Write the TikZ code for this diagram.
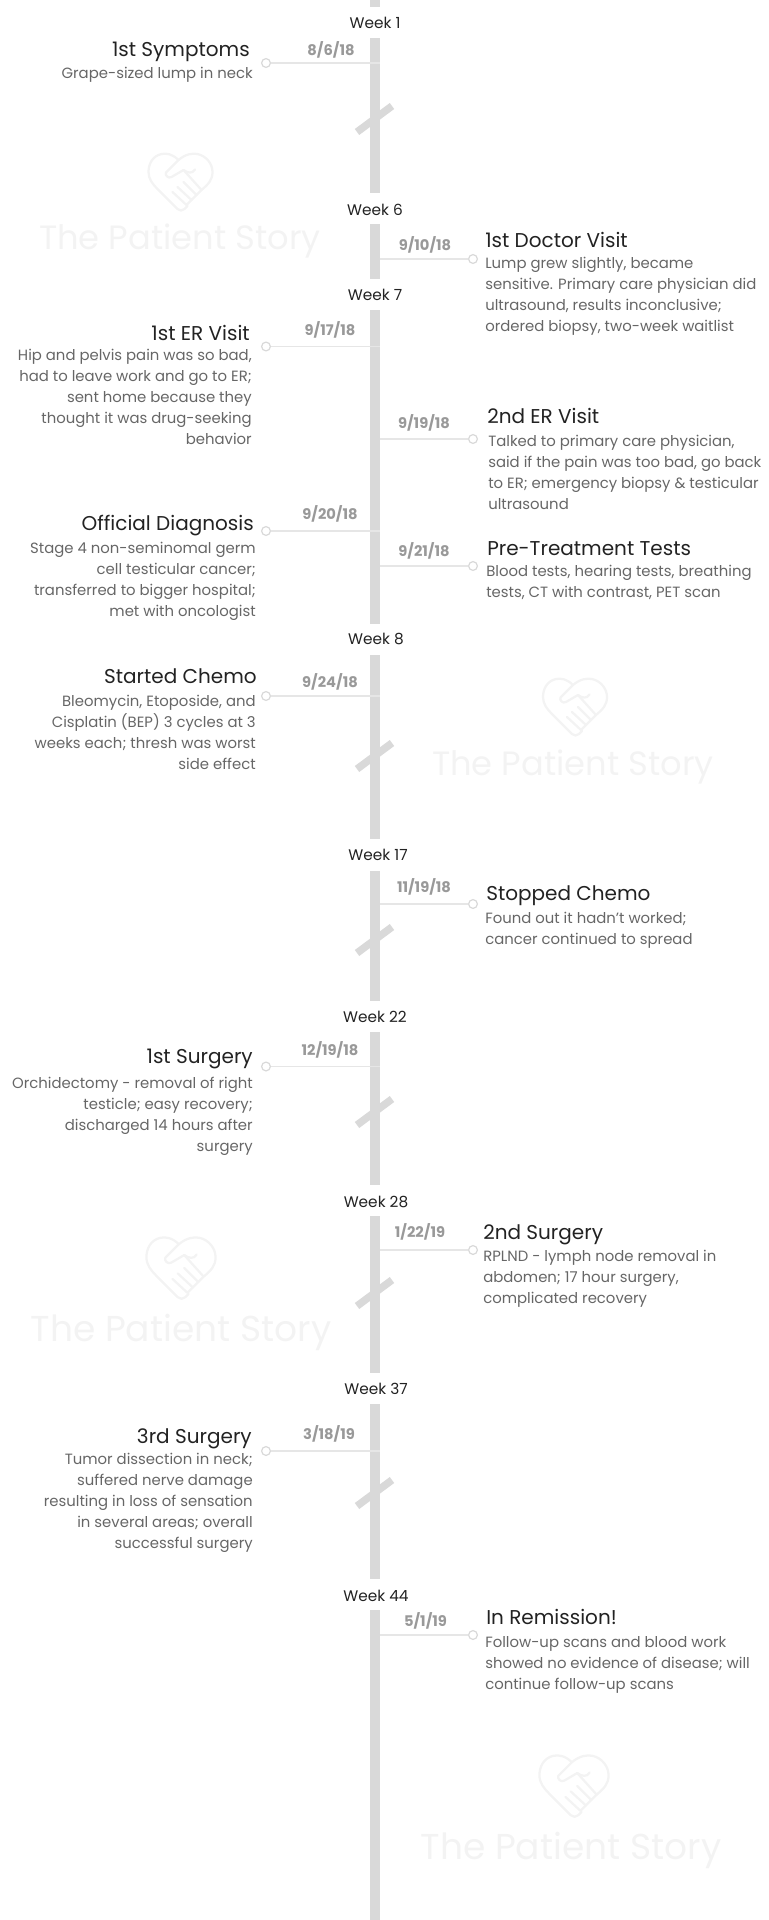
\documentclass[tikz,border=0pt]{standalone}
\usepackage{fontspec}
\setmainfont{Poppins}
\usepackage{xcolor}
\usetikzlibrary{calc,positioning}
\definecolor{trunkgray}{HTML}{D9D9D9}
\definecolor{linkgray}{HTML}{E6E6E6}
\definecolor{markgray}{HTML}{D9D9D9}
\definecolor{dategray}{HTML}{999999}
\definecolor{bodygray}{HTML}{666666}
\definecolor{headdark}{HTML}{222222}
\definecolor{wmgray}{HTML}{F3F3F3}
\tikzset{
  weeklabel/.style={font=\fontsize{11.5}{13}\selectfont,text=headdark,inner sep=0pt},
  datelabel/.style={font=\fontsize{11}{13}\selectfont\bfseries,text=dategray,inner sep=0pt},
  headleft/.style={font=\fontsize{15}{17}\selectfont,text=headdark,inner sep=0pt,anchor=east},
  headright/.style={font=\fontsize{15}{17}\selectfont,text=headdark,inner sep=0pt,anchor=west},
  bodyleft/.style={font=\fontsize{11.15}{15.75}\selectfont,text=bodygray,inner sep=0pt,anchor=north east,align=right,execute at begin node={\rule{0pt}{8.5pt}}},
  bodyright/.style={font=\fontsize{11.15}{15.75}\selectfont,text=bodygray,inner sep=0pt,anchor=north west,align=left,execute at begin node={\rule{0pt}{8.5pt}}},
  marker/.style={circle,draw=markgray,fill=white,line width=0.9pt,minimum size=6.6pt,inner sep=0pt},
  linkline/.style={draw=linkgray,line width=1.4pt},
  trunkline/.style={draw=trunkgray,line width=7.5pt},
  breakline/.style={draw=trunkgray,line width=5.6pt},
  wmtext/.style={font=\fontsize{#1}{#1}\selectfont,text=wmgray,inner sep=0pt},
  wmline/.style={draw=wmgray,line width=1.7pt,line cap=round,line join=round},
  logomark/.pic={
    % heart outline and the two hands
    \draw[wmline] (-2,-22) .. controls (-8,-28) and (-14,-29) .. (-19,-28)
      .. controls (-28,-26) and (-32,-18) .. (-32,-10)
      .. controls (-32,-3) and (-28,2) .. (-23,7) -- (-3,27)
      .. controls (-1,29) and (2,29) .. (4,27) -- (7,24);
    \draw[wmline] (-2,-22) .. controls (5,-28) and (12,-29) .. (17,-28)
      .. controls (26,-26) and (32,-18) .. (32,-10)
      .. controls (32,-2) and (28,2) .. (21,8);
    \draw[wmline] (-2,-22) -- (-14.5,-9.5) .. controls (-16,-7) and (-12,-3) .. (-9,-5)
      -- (3,-12) .. controls (7,-9) and (12,-8) .. (14.5,-12.5);
    \draw[wmline] (3,-12) -- (21,8) -- (16,13) -- (3,0);
    \draw[wmline] (16,13) -- (11,18) -- (-3,5);
    \draw[wmline] (11,18) -- (6,23) -- (-8,10);
  }
}
\begin{document}
\begin{tikzpicture}[x=0.75pt,y=-0.75pt]
  \useasboundingbox (0,0) rectangle (768,1920);
  \coordinate (spine) at (375,0);
  \coordinate (spineedge) at (380,0);

  % watermarks
  \pic at (180.5,182) {logomark};
  \node[wmtext=25.3] (wma) at (180,241) {The Patient Story};
  \pic at (575,707) {logomark};
  \node[wmtext=25.3] (wmb) at (573,767) {The Patient Story};
  \pic[scale=1.08] at (181,1268) {logomark};
  \node[wmtext=27] (wmc) at (181,1332) {The Patient Story};
  \pic[scale=1.08] at (574,1786) {logomark};
  \node[wmtext=27] (wmd) at (571,1850) {The Patient Story};

  % trunk pieces
  \foreach \ya/\yb in {0/7,38/193,224/279,310/624,655/839,871/1001,1032/1185,1216/1373,1404/1579,1610/1920}
    \draw[trunkline] ($(spine)+(0,\ya)$) -- ($(spine)+(0,\yb)$);
  % breaks
  \foreach \yc in {119,756,940,1112,1293,1493}
    \draw[breakline] ($(spine)+(-18,\yc+13)$) -- ($(spine)+(17,\yc-13)$);

  % weeks
  \foreach \wname/\wy/\wx in {1/23/375,6/210/375,7/295/375,8/639/376,17/855/378,22/1017/375,28/1202/376,37/1389/376,44/1596/376}
    \node[weeklabel] (week\wname) at (\wx,\wy) {Week \wname};

  % left events
  \node[marker] (symp) at (266,63) {};
  \draw[linkline] (symp) -- (symp -| spineedge);
  \node[datelabel] (sympdate) at (331,50) {8/6/18};
  \node[headleft] (symphead) at (250,52) {1st Symptoms};
  \node[bodyleft] (sympbody) at (253,67) {Grape-sized lump in neck};

  \node[marker] (erone) at (266,346.5) {};
  \draw[linkline] (erone) -- (erone -| spineedge);
  \node[datelabel] (eronedate) at (330,330) {9/17/18};
  \node[headleft] (eronehead) at (250,333) {1st ER Visit};
  \node[bodyleft] (eronebody) at (252,349) {Hip and pelvis pain was so bad,\\had to leave work and go to ER;\\sent home because they\\thought it was drug-seeking\\behavior};

  \node[marker] (diag) at (266,531) {};
  \draw[linkline] (diag) -- (diag -| spineedge);
  \node[datelabel] (diagdate) at (330,514) {9/20/18};
  \node[headleft] (diaghead) at (254,526) {Official Diagnosis};
  \node[bodyleft] (diagbody) at (256,542) {Stage 4 non-seminomal germ\\cell testicular cancer;\\transferred to bigger hospital;\\met with oncologist};

  \node[marker] (chemo) at (266,696) {};
  \draw[linkline] (chemo) -- (chemo -| spineedge);
  \node[datelabel] (chemodate) at (330,682) {9/24/18};
  \node[headleft] (chemohead) at (257,676.5) {Started Chemo};
  \node[bodyleft] (chemobody) at (256,695) {Bleomycin, Etoposide, and\\Cisplatin (BEP) 3 cycles at 3\\weeks each; thresh was worst\\side effect};

  \node[marker] (surgone) at (266,1066.5) {};
  \draw[linkline] (surgone) -- (surgone -| spineedge);
  \node[datelabel] (surgonedate) at (330,1050) {12/19/18};
  \node[headleft] (surgonehead) at (253,1059) {1st Surgery};
  \node[bodyleft] (surgonebody) at (253,1076.5) {Orchidectomy - removal of right\\testicle; easy recovery;\\discharged 14 hours after\\surgery};

  \node[marker] (surgthree) at (266,1451) {};
  \draw[linkline] (surgthree) -- (surgthree -| spineedge);
  \node[datelabel] (surgthreedate) at (329,1434) {3/18/19};
  \node[headleft] (surgthreehead) at (252,1439) {3rd Surgery};
  \node[bodyleft] (surgthreebody) at (253,1453) {Tumor dissection in neck;\\suffered nerve damage\\resulting in loss of sensation\\in several areas; overall\\successful surgery\hspace{3pt}};

  % right events
  \node[marker] (doc) at (473,259) {};
  \draw[linkline] (spineedge |- doc) -- (doc);
  \node[datelabel] (docdate) at (425,245) {9/10/18};
  \node[headright] (dochead) at (485,240) {1st Doctor Visit};
  \node[bodyright] (docbody) at (485,257) {Lump grew slightly, became\\sensitive. Primary care physician did\\ultrasound, results inconclusive;\\ordered biopsy, two-week waitlist};

  \node[marker] (ertwo) at (473,439) {};
  \draw[linkline] (spineedge |- ertwo) -- (ertwo);
  \node[datelabel] (ertwodate) at (424,423) {9/19/18};
  \node[headright] (ertwohead) at (487,416) {2nd ER Visit};
  \node[bodyright] (ertwobody) at (488,435) {Talked to primary care physician,\\said if the pain was too bad, go back\\to ER; emergency biopsy \& testicular\\ultrasound};

  \node[marker] (pret) at (473,566) {};
  \draw[linkline] (spineedge |- pret) -- (pret);
  \node[datelabel] (pretdate) at (424,551) {9/21/18};
  \node[headright] (prethead) at (487,549) {Pre-Treatment Tests};
  \node[bodyright] (pretbody) at (486,565) {Blood tests, hearing tests, breathing\\tests, CT with contrast, PET scan};

  \node[marker] (stop) at (473,904) {};
  \draw[linkline] (spineedge |- stop) -- (stop);
  \node[datelabel] (stopdate) at (424,887) {11/19/18};
  \node[headright] (stophead) at (486,895.5) {Stopped Chemo};
  \node[bodyright] (stopbody) at (485,912) {Found out it hadn't worked;\\cancer continued to spread};

  \node[marker] (surgtwo) at (473,1250) {};
  \draw[linkline] (spineedge |- surgtwo) -- (surgtwo);
  \node[datelabel] (surgtwodate) at (420,1232) {1/22/19};
  \node[headright] (surgtwohead) at (483,1235) {2nd Surgery};
  \node[bodyright] (surgtwobody) at (483,1250) {RPLND - lymph node removal in\\abdomen; 17 hour surgery,\\complicated recovery};

  \node[marker] (remis) at (473,1635) {};
  \draw[linkline] (spineedge |- remis) -- (remis);
  \node[datelabel] (remisdate) at (425.5,1621) {5/1/19};
  \node[headright] (remishead) at (486,1616.5) {In Remission!};
  \node[bodyright] (remisbody) at (485,1636) {Follow-up scans and blood work\\showed no evidence of disease; will\\continue follow-up scans};
\end{tikzpicture}
\end{document}
